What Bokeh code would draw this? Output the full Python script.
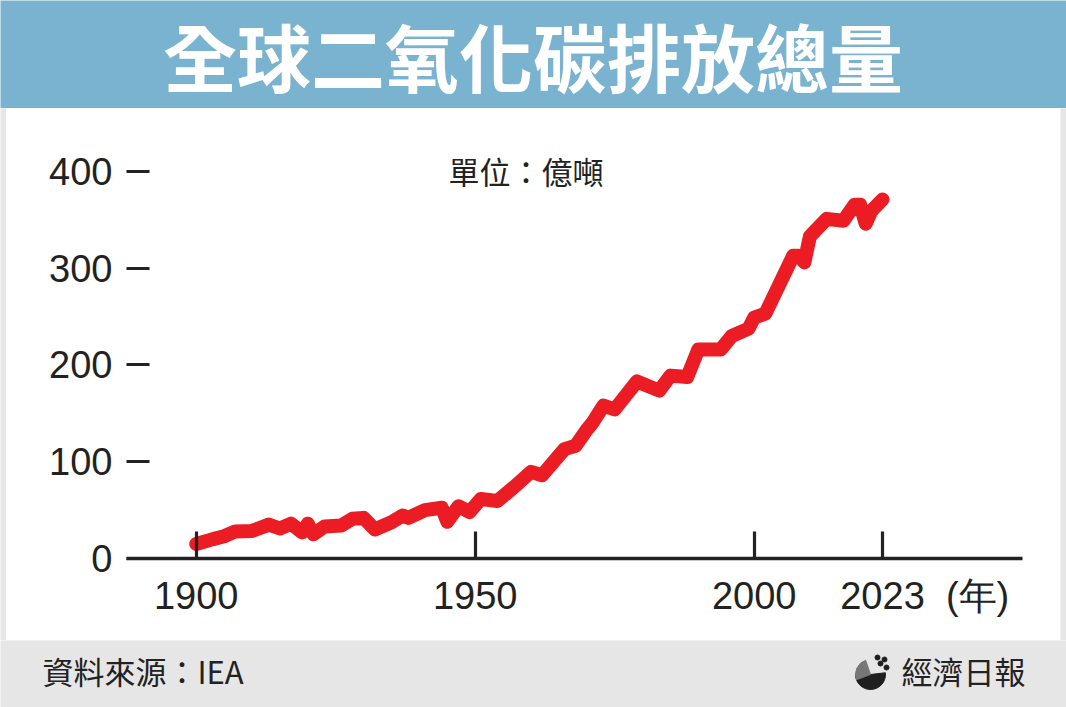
from bokeh.plotting import figure
from bokeh.models import Range1d, FixedTicker, Label
from bokeh.layouts import column, row
from bokeh.embed import file_html
from bokeh.resources import INLINE

# ---- texts ----
title_text = "全球二氧化碳排放總量"
unit_text = "單位：億噸"
source_text = "資料來源：IEA"
brand_text = "經濟日報"
year_suffix = "(年)"

# ---- data (億噸) ----
years = [1900, 1903, 1905, 1907, 1910, 1913, 1915, 1917, 1919, 1920,
         1921, 1923, 1926, 1928, 1930, 1932, 1935, 1937, 1938, 1941,
         1944, 1945, 1947, 1949, 1951, 1954, 1957, 1960, 1962, 1966,
         1968, 1970, 1971, 1973, 1975, 1979, 1983, 1985, 1988, 1990,
         1994, 1996, 1999, 2000, 2002, 2007, 2008, 2009, 2010, 2013,
         2016, 2018, 2019, 2020, 2021, 2023]
emissions = [15, 20, 23, 28, 28.5, 35, 31, 36, 27, 36,
             25, 33, 34, 41, 42, 30, 37.5, 44.5, 42, 50,
             52.5, 38, 54, 48, 61.5, 59.5, 74, 89.5, 86, 113,
             116.5, 133, 140, 158, 154, 183, 173.5, 189, 187.5, 216,
             216, 230, 237.5, 249, 253, 313, 313, 306, 333, 351,
             349, 365.5, 365.5, 346, 359, 371]
x_ticks = [1900, 1950, 2000, 2023]
y_ticks = [0, 100, 200, 300, 400]

INK = "#222222"
BLUE = "#79b3cf"
GREY = "#e6e6e6"
RED = "#ec1c24"
CJK = "Noto Sans CJK TC"
LATIN = "Liberation Sans"
W = 1066
SIDE = 6


def no_align(fig):
    if "frame_align" in fig.properties():
        fig.frame_align = False
    return fig


def band(width, height, color):
    b = figure(width=width, height=height, x_range=Range1d(0, width), y_range=Range1d(0, height),
               output_backend="svg", toolbar_location=None, min_border=0,
               x_axis_location=None, y_axis_location=None,
               background_fill_color=color, border_fill_color=color, outline_line_color=None)
    b.grid.visible = False
    return no_align(b)


# ---- header band ----
h = band(W, 108, BLUE)
h.add_layout(Label(x=532.5, y=54, text=title_text, text_align="center", text_baseline="middle",
                   text_font=CJK, text_font_size="74px", text_font_style="bold", text_color="white"))

# ---- main chart ----
MW = W - 2 * SIDE
p = figure(width=MW, height=532, x_range=Range1d(1887.5, 2048.1), y_range=Range1d(0, 444.4),
           output_backend="svg", toolbar_location=None,
           min_border_left=126 - SIDE, min_border_right=1066 - 1022 - SIDE,
           min_border_top=20, min_border_bottom=82,
           background_fill_color="white", border_fill_color="white", outline_line_color=None)
no_align(p)
p.grid.visible = False
p.line(years, emissions, line_width=14, line_color=RED, line_join="round", line_cap="round")

xa = p.xaxis[0]
xa.ticker = FixedTicker(ticks=x_ticks)
xa.major_label_overrides = {2023: "\u2007\u2007\u2007\u20072023\u2007" + year_suffix}
xa.major_tick_in = 27
xa.major_tick_out = 0
xa.minor_tick_line_color = None
xa.axis_line_width = 3.5
xa.axis_line_color = INK
xa.major_tick_line_width = 3.2
xa.major_tick_line_color = INK
xa.major_label_text_font = LATIN
xa.major_label_text_font_size = "38px"
xa.major_label_text_color = INK
xa.major_label_standoff = 16

ya = p.yaxis[0]
ya.ticker = FixedTicker(ticks=y_ticks)
ya.major_tick_in = 23
ya.major_tick_out = 0
ya.minor_tick_line_color = None
ya.axis_line_color = None
ya.major_tick_line_width = 3.2
ya.major_tick_line_color = INK
ya.major_label_text_font = LATIN
ya.major_label_text_font_size = "38px"
ya.major_label_text_color = INK
ya.major_label_standoff = 14

p.add_layout(Label(x=1959.1, y=401, text=unit_text, text_align="center", text_baseline="middle",
                   text_font=CJK, text_font_size="31px", text_color=INK))

left_strip = band(SIDE, 532, GREY)
right_strip = band(SIDE, 532, GREY)
middle = row(left_strip, p, right_strip, spacing=0)

# ---- footer band ----
f = band(W, 67, GREY)
f.add_layout(Label(x=42, y=37, text=source_text, text_align="left", text_baseline="middle",
                   text_font=CJK, text_font_size="31px", text_color=INK))
f.add_layout(Label(x=1025, y=37, text=brand_text, text_align="right", text_baseline="middle",
                   text_font=CJK, text_font_size="31px", text_color=INK))
# small decorative logo mark
f.wedge(x=[870], y=[33], radius=15, start_angle=3.14159, end_angle=6.40, color="#1f1f1f")
f.wedge(x=[870], y=[33], radius=15, start_angle=1.9, end_angle=3.5, color="#777777")
f.scatter(x=[880, 886, 884, 877], y=[44, 40, 48, 50], size=5, color="#1f1f1f")

layout = column(h, middle, f, spacing=0)
open("out.html", "w").write(file_html(layout, INLINE))
